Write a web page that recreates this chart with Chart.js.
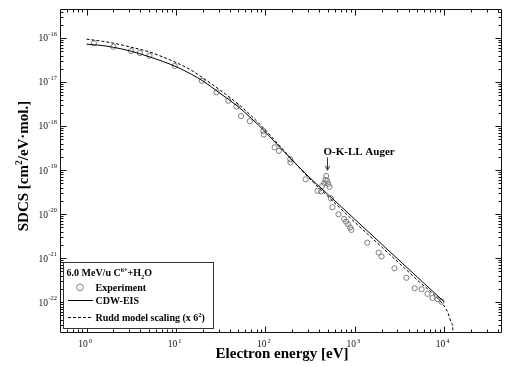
<!DOCTYPE html>
<html><head><meta charset="utf-8">
<script src="https://cdn.jsdelivr.net/npm/chart.js@4.4.1/dist/chart.umd.min.js"></script>
<style>html,body{margin:0;padding:0;background:#fff}canvas{display:block}</style>
</head><body>
<canvas id="c" width="507" height="367"></canvas>
<script>
// ---- data ----
const expEnergy = [1.21, 2.0, 3.15, 3.95, 5.05, 9.7, 19.5, 28.5, 38.5, 47.5, 53.5, 67, 95, 96, 127, 142, 190, 191,
  282, 384, 419, 433, 456, 471, 480, 492, 505, 522, 541, 564, 658, 761, 800, 843, 887, 917,
  1380, 1850, 1995, 2780, 3780, 4680, 5600, 6520, 7410, 8430, 9330];
const expSDCS = [7.7e-17, 6.4e-17, 5.1e-17, 4.6e-17, 4.0e-17, 2.34e-17, 1.07e-17, 5.9e-18, 3.8e-18, 2.8e-18, 1.7e-18, 1.3e-18, 7.8e-19, 6.5e-19, 3.3e-19, 2.75e-19, 1.76e-19, 1.5e-19,
  6.2e-20, 3.4e-20, 3.3e-20, 4.4e-20, 5.1e-20, 6.0e-20, 7.4e-20, 5.7e-20, 4.9e-20, 4.2e-20, 2.3e-20, 1.44e-20, 1.0e-20, 7.8e-21, 6.8e-21, 5.9e-21, 5.0e-21, 4.4e-21,
  2.26e-21, 1.34e-21, 1.09e-21, 5.9e-22, 3.6e-22, 2.08e-22, 1.97e-22, 1.55e-22, 1.25e-22, 1.17e-22, 1.03e-22];

const cdwEnergy = [1, 1.5, 2, 3, 5, 7, 10, 15, 20, 30, 50, 70, 100, 150, 200, 300, 500, 1000, 2000, 5000, 10000];
const cdwSDCS = [7.3e-17, 6.8e-17, 6.2e-17, 5.2e-17, 3.8e-17, 3.0e-17, 2.26e-17, 1.5e-17, 1.07e-17, 5.9e-18, 2.75e-18, 1.5e-18, 7.4e-19, 3.1e-19, 1.7e-19, 7.4e-20, 2.83e-20, 7.7e-21, 2.09e-21, 3.74e-22, 1.02e-22];

const ruddEnergy = [1, 1.5, 2, 3, 5, 7, 10, 15, 20, 30, 50, 70, 100, 150, 200, 300, 500, 1000, 2000, 5000, 10000, 11000, 12000, 12500, 13000];
const ruddSDCS = [9.5e-17, 8.5e-17, 7.7e-17, 6.4e-17, 4.9e-17, 3.8e-17, 2.8e-17, 1.85e-17, 1.25e-17, 7.0e-18, 3.15e-18, 1.7e-18, 8.2e-19, 3.3e-19, 1.72e-19, 7.0e-20, 2.55e-20, 6.6e-21, 1.8e-21, 3.2e-22, 8.2e-23, 5.8e-23, 3.5e-23, 2.4e-23, 1.0e-24];

const xTickExponents = [0, 1, 2, 3, 4];
const yTickExponents = [-22, -21, -20, -19, -18, -17, -16];
const xRange = [0.505, 44500];
const yRange = [2.0e-23, 4.6e-16];

const xTitle = 'Electron energy [eV]';
const yTitleParts = ['SDCS [cm', '2', '/eV\u00B7mol.]'];
const legendTitleParts = ['6.0 MeV/u C', '6+', '+H', '2', 'O'];
const seriesNames = ['Experiment', 'CDW-EIS', 'Rudd model scaling (x 6', '2', ')'];
const annotationText = 'O-K-LL Auger';
const annotationEnergy = 488;
const annotationArrowTop = 1.95e-19;
const annotationArrowTip = 1.0e-19;
const annotationTextLevel = 2.75e-19;

// ---- helpers ----
const FONT = '"Liberation Serif", "Times New Roman", serif';
function pts(xs, ys) { return xs.map((v, i) => ({ x: v, y: ys[i] })); }
function runs(ctx, parts, x, y) {
  let cx = x;
  for (const [s, f, dy] of parts) { ctx.font = f; ctx.textAlign = 'left'; ctx.fillText(s, cx, y + dy); cx += ctx.measureText(s).width; }
  return cx - x;
}
function runsWidth(ctx, parts) {
  let w = 0;
  for (const [s, f] of parts) { ctx.font = f; w += ctx.measureText(s).width; }
  return w;
}

const decor = {
  id: 'decor',
  afterDraw(chart) {
    const { ctx, chartArea: a, scales: { x, y } } = chart;
    ctx.save();
    ctx.strokeStyle = '#111';
    ctx.fillStyle = '#111';
    ctx.lineWidth = 1;
    const L = Math.round(a.left) + 0.5, R = Math.round(a.right) - 0.5, T = Math.round(a.top) + 0.5, B = Math.round(a.bottom) - 0.5;
    ctx.beginPath();
    ctx.rect(L, T, R - L, B - T);
    ctx.stroke();
    // ticks
    ctx.beginPath();
    for (let e = -1; e <= 5; e++) for (let m = 1; m <= 9; m++) {
      const v = m * Math.pow(10, e);
      if (v <= x.min || v >= x.max) continue;
      const px = Math.round(x.getPixelForValue(v)) + 0.5;
      const len = m === 1 ? 6 : 3;
      ctx.moveTo(px, B); ctx.lineTo(px, B - len);
      ctx.moveTo(px, T); ctx.lineTo(px, T + len);
    }
    for (let e = -24; e <= -15; e++) for (let m = 1; m <= 9; m++) {
      const v = m * Math.pow(10, e);
      if (v <= y.min || v >= y.max) continue;
      const py = Math.round(y.getPixelForValue(v)) + 0.5;
      const len = m === 1 ? 6 : 3;
      ctx.moveTo(L, py); ctx.lineTo(L + len, py);
      ctx.moveTo(R, py); ctx.lineTo(R - len, py);
    }
    ctx.stroke();
    // tick labels
    const fBase = `9.5px ${FONT}`, fExp = `6.5px ${FONT}`;
    ctx.textBaseline = 'alphabetic';
    for (const e of xTickExponents) {
      const px = x.getPixelForValue(Math.pow(10, e));
      ctx.font = fBase; ctx.textAlign = 'right'; ctx.fillText('10', px + 1.2, 347.3);
      ctx.font = fExp; ctx.textAlign = 'left'; ctx.fillText(String(e), px + 2.2, 342.5);
    }
    for (const e of yTickExponents) {
      const py = y.getPixelForValue(Math.pow(10, e));
      const es = '-' + String(-e);
      ctx.font = fExp; ctx.textAlign = 'right'; ctx.fillText(es, 57, py - 1.8);
      const ew = ctx.measureText(es).width;
      ctx.font = fBase; ctx.textAlign = 'right'; ctx.fillText('10', 57 - ew - 0.3, py + 3.3);
    }
    // axis titles
    ctx.fillStyle = '#000';
    ctx.font = `bold 15px ${FONT}`; ctx.textAlign = 'center';
    ctx.fillText(xTitle, (a.left + a.right) / 2 + 1, 358);
    const yParts = [[yTitleParts[0], `bold 15px ${FONT}`, 0], [yTitleParts[1], `bold 9.5px ${FONT}`, -6.5], [yTitleParts[2], `bold 15px ${FONT}`, 0]];
    const yw = runsWidth(ctx, yParts);
    ctx.save();
    ctx.translate(28, 166);
    ctx.rotate(-Math.PI / 2);
    runs(ctx, yParts, -yw / 2, 0);
    ctx.restore();
    // annotation
    const ax = Math.round(x.getPixelForValue(annotationEnergy)) + 0.5;
    ctx.font = `bold 11px ${FONT}`; ctx.textAlign = 'left';
    ctx.fillText(annotationText, ax - 4, y.getPixelForValue(annotationTextLevel) + 3.8);
    const at = y.getPixelForValue(annotationArrowTop), ab = y.getPixelForValue(annotationArrowTip);
    ctx.strokeStyle = '#333';
    ctx.beginPath(); ctx.moveTo(ax, at); ctx.lineTo(ax, ab); ctx.stroke();
    ctx.beginPath(); ctx.moveTo(ax - 2.2, ab - 4.5); ctx.lineTo(ax, ab); ctx.lineTo(ax + 2.2, ab - 4.5); ctx.stroke();
    // legend box
    ctx.strokeStyle = '#333';
    ctx.fillStyle = '#fff';
    ctx.fillRect(63.5, 262.5, 150, 66);
    ctx.strokeRect(63.5, 262.5, 150, 66);
    ctx.fillStyle = '#000';
    const lf = `bold 10px ${FONT}`, ls = `bold 6.5px ${FONT}`;
    runs(ctx, [[legendTitleParts[0], lf, 0], [legendTitleParts[1], ls, -4.5], [legendTitleParts[2], lf, 0], [legendTitleParts[3], ls, 2.5], [legendTitleParts[4], lf, 0]], 66.5, 276.2);
    ctx.strokeStyle = '#777'; ctx.lineWidth = 0.9;
    ctx.beginPath(); ctx.arc(80, 287.5, 3.4, 0, Math.PI * 2); ctx.stroke();
    ctx.strokeStyle = '#000'; ctx.lineWidth = 1;
    ctx.beginPath(); ctx.moveTo(68, 300.5); ctx.lineTo(93, 300.5); ctx.stroke();
    ctx.setLineDash([3, 2]);
    ctx.beginPath(); ctx.moveTo(68, 317.5); ctx.lineTo(93, 317.5); ctx.stroke();
    ctx.setLineDash([]);
    ctx.font = lf; ctx.textAlign = 'left';
    ctx.fillText(seriesNames[0], 95.5, 291);
    ctx.fillText(seriesNames[1], 95.5, 304.3);
    runs(ctx, [[seriesNames[2], lf, 0], [seriesNames[3], ls, -4.5], [seriesNames[4], lf, 0]], 95.5, 321);
    ctx.restore();
  }
};

new Chart(document.getElementById('c'), {
  type: 'scatter',
  data: {
    datasets: [
      { label: seriesNames[1], data: pts(cdwEnergy, cdwSDCS), showLine: true, borderColor: '#000', borderWidth: 1, pointRadius: 0, cubicInterpolationMode: 'monotone', fill: false },
      { label: 'Rudd', data: pts(ruddEnergy, ruddSDCS), showLine: true, borderColor: '#000', borderWidth: 1, borderDash: [3, 2], pointRadius: 0, cubicInterpolationMode: 'monotone', fill: false },
      { label: seriesNames[0], data: pts(expEnergy, expSDCS), showLine: false, pointStyle: 'circle', pointRadius: 2.6, pointBorderWidth: 0.9, pointBorderColor: '#707070', pointBackgroundColor: 'rgba(0,0,0,0)' }
    ]
  },
  options: {
    responsive: false,
    devicePixelRatio: 1,
    animation: false,
    layout: { padding: { left: 60, right: 2, top: 9, bottom: 34 } },
    plugins: { legend: { display: false }, tooltip: { enabled: false } },
    scales: {
      x: { type: 'logarithmic', display: false, min: xRange[0], max: xRange[1] },
      y: { type: 'logarithmic', display: false, min: yRange[0], max: yRange[1] }
    }
  },
  plugins: [decor]
});
</script>
</body></html>
